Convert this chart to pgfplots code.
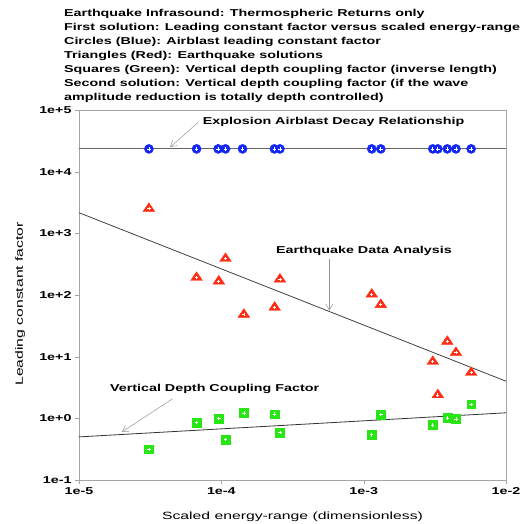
\documentclass[border=0pt]{standalone}
\usepackage{fontspec}
\setmainfont{Liberation Sans}
\newfontfamily\bfam{Liberation Sans}[FakeStretch=1.43]
\newfontfamily\rfam{Liberation Sans}[FakeStretch=1.5]
\usepackage{pgfplots}
\usepackage{pgfplotstable}
\pgfplotsset{compat=1.18}
\usetikzlibrary{arrows.meta}

\definecolor{cblue}{RGB}{20,40,245}
\definecolor{cred}{RGB}{255,45,20}
\definecolor{cgreen}{RGB}{40,230,20}
\definecolor{frame}{RGB}{165,165,165}
\definecolor{arr}{RGB}{150,150,150}

\pgfdeclareplotmark{tri}{%
  \pgfpathmoveto{\pgfqpoint{0pt}{1.05\pgfplotmarksize}}%
  \pgfpathlineto{\pgfqpoint{-1.25\pgfplotmarksize}{-0.8\pgfplotmarksize}}%
  \pgfpathlineto{\pgfqpoint{1.25\pgfplotmarksize}{-0.8\pgfplotmarksize}}%
  \pgfpathclose\pgfusepathqfillstroke}

\pgfplotstableread{
x y
3.1e-5 23400
6.7e-5 23400
9.5e-5 23400
1.07e-4 23400
1.41e-4 23400
2.36e-4 23400
2.58e-4 23400
1.14e-3 23400
1.32e-3 23400
3.06e-3 23400
3.32e-3 23400
3.87e-3 23400
4.45e-3 23400
5.69e-3 23400
}\airblast
\pgfplotstableread{
x y
3.1e-5 2600
6.7e-5 198
9.6e-5 173
1.07e-4 402
1.44e-4 50
2.37e-4 65
2.58e-4 186
1.14e-3 106
1.32e-3 72
3.06e-3 8.6
3.32e-3 2.48
3.87e-3 18.2
4.45e-3 12.0
5.69e-3 5.7
}\quake
\pgfplotstableread{
x y
3.1e-5 0.315
6.7e-5 0.85
9.6e-5 0.99
1.07e-4 0.45
1.44e-4 1.22
2.37e-4 1.17
2.58e-4 0.59
1.14e-3 0.54
1.32e-3 1.16
3.06e-3 0.78
3.87e-3 1.01
4.45e-3 0.98
5.69e-3 1.69
}\depth

\begin{document}
\begin{tikzpicture}
\begin{axis}[
  scale only axis, width=427bp, height=370bp,
  xmode=log, ymode=log,
  xmin=1e-5, xmax=1e-2, ymin=0.1, ymax=1e5,
  xtick={1e-5,1e-4,1e-3,1e-2}, xticklabels={1e-5,1e-4,1e-3,1e-2},
  ytick={1e-1,1,1e1,1e2,1e3,1e4,1e5},
  yticklabels={1e-1,1e+0,1e+1,1e+2,1e+3,1e+4,1e+5},
  minor tick num=0, subtickwidth=0pt,
  tick align=outside, major tick length=4bp,
  xtick pos=bottom, ytick pos=left,
  axis line style={frame}, tick style={frame},
  ticklabel style={font=\fontsize{10bp}{12bp}\bfam\bfseries},
  xlabel={Scaled energy-range (dimensionless)},
  ylabel={Leading constant factor},
  label style={font=\fontsize{10.5bp}{12bp}\rfam},
  xlabel style={at={(axis description cs:0.5,-0.099)},anchor=center},
  ylabel style={at={(axis description cs:-0.138,0.476)},anchor=center},
  clip=false,
]
% fitted lines
\addplot[gray!80!black,line width=0.8bp] coordinates {(1e-5,23400)(1e-2,23400)};
\addplot[black!75,line width=0.8bp] coordinates {(1e-5,2160)(1e-2,4.0)};
\addplot[black!80,line width=0.8bp] coordinates {(1e-5,0.50)(1e-2,1.23)};

\addplot[only marks,mark=*,mark size=4.6bp,draw=cblue,fill=cblue] table {\airblast};
\addplot[only marks,mark=+,mark size=1.7bp,white,line width=0.7bp] table {\airblast};
\addplot[only marks,mark=tri,mark size=4.7bp,draw=cred,fill=cred] table {\quake};
\addplot[only marks,mark=+,mark size=1.6bp,white,line width=0.7bp,mark options={yshift=-0.9bp}] table {\quake};
\addplot[only marks,mark=square*,mark size=4.4bp,draw=cgreen,fill=cgreen] table {\depth};
\addplot[only marks,mark=+,mark size=1.7bp,white,line width=0.7bp] table {\depth};

% annotations
\begin{scope}[font=\fontsize{10bp}{12bp}\bfam\bfseries]
\node[anchor=west,inner sep=0] at (axis cs:7.4e-5,6.3e4) {Explosion Airblast Decay Relationship};
\node[anchor=west,inner sep=0] at (axis cs:2.42e-4,528) {Earthquake Data Analysis};
\node[anchor=west,inner sep=0] at (axis cs:1.65e-5,2.95) {Vertical Depth Coupling Factor};
\end{scope}
\draw[arr,line width=0.5bp,-{Straight Barb[length=6bp,width=7bp]}] (axis cs:6.86e-5,6.27e4) -- (axis cs:4.36e-5,2.49e4);
\draw[arr,line width=0.5bp,-{Straight Barb[length=6bp,width=7bp]}] (axis cs:5.74e-4,378) -- (axis cs:5.74e-4,56);
\draw[arr,line width=0.5bp,-{Straight Barb[length=6bp,width=7bp]}] (axis cs:4.55e-5,2.08) -- (axis cs:2.0e-5,0.60);
\end{axis}
\node[anchor=north west,inner sep=0,align=left,font=\fontsize{10bp}{14bp}\bfam\bfseries] at (-15bp,471bp)
{Earthquake Infrasound: Thermospheric Returns only\\
First solution: Leading constant factor versus scaled energy-range\\
Circles (Blue): Airblast leading constant factor\\
Triangles (Red): Earthquake solutions\\
Squares (Green): Vertical depth coupling factor (inverse length)\\
Second solution: Vertical depth coupling factor (if the wave\\
amplitude reduction is totally depth controlled)};
\pgfresetboundingbox
\path (-79bp,-44bp) rectangle (442bp,480bp);
\end{tikzpicture}
\end{document}
